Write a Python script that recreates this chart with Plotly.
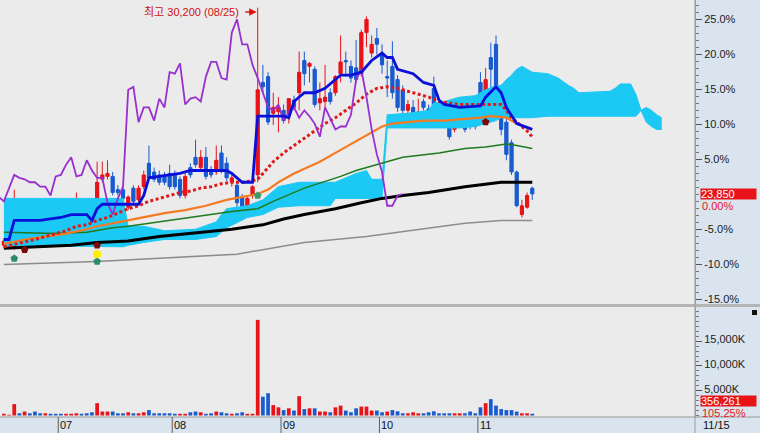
import plotly.graph_objects as go

# ---------------- data (prices in KRW, index = trading day) ----------------
opens = [22100,22300,22050,22550,22300,23050,23150,23250,23050,23350,
         23300,23300,23050,22900,23150,23450,23150,23050,22500,24350,
         24450,24450,24000,24000,23400,24050,23650,24100,24900,24600,
         24500,24450,24550,24500,24350,23800,24750,25100,24750,25100,
         24650,24600,25250,24900,24250,24150,23750,23200,23800,24500,
         27650,27850,26600,26650,26700,26600,27050,27300,28400,28200,
         28100,26950,27000,27300,27300,27950,28400,28200,28150,27950,
         29350,28650,29150,28650,27850,28200,27750,27400,26700,26800,
         26450,27000,26750,27450,26700,26650,26450,26050,26700,26450,
         26650,26700,27650,26800,28500,28950,27450,26300,25600,24600,
         23150,23400,24050]
highs = [22350,22400,24000,22700,23300,23150,23250,23400,23650,23450,
         23650,23450,23650,23150,23900,23600,23250,23250,24950,24950,
         25000,24600,24150,24150,23800,24150,24150,24650,25500,24750,
         24650,24600,24850,24650,24450,24600,24900,25700,25350,25450,
         24800,25500,25500,25100,24500,24250,23850,23800,24150,30200,
         28250,28000,27300,27150,26900,27100,27200,28700,28700,28350,
         28200,27650,28250,27450,27900,29250,28700,28400,29100,29450,
         29900,29250,29500,28950,28400,29050,27900,27550,27050,27050,
         27100,27100,26900,27850,26950,26800,26600,26900,26850,26650,
         26900,27000,28000,28150,29000,29250,27550,26450,25700,24650,
         23650,23900,24100]
lows = [22000,22000,21950,22150,22200,22600,22850,22800,22950,23100,
        23050,22950,22950,22850,23050,23150,22850,22350,22350,24250,
        24350,23800,23800,23600,23300,23450,23550,24000,24350,24250,
        24150,24150,24000,24000,23700,23700,24400,24750,24650,24350,
        24400,24500,24550,24300,24100,23350,22950,23100,23700,24250,
        27300,26200,26200,25950,26250,26250,26700,26700,27550,27650,
        26800,26700,26700,26900,27200,27650,27850,27650,27650,27850,
        28850,28500,28600,27950,27150,27100,26650,26600,26450,26250,
        26350,26700,26350,26600,26450,26150,25700,25950,26350,25950,
        26050,26050,26350,26700,27400,27050,25850,25000,24500,23400,
        23050,23350,23650]
closes = [22250,22150,22750,22300,22950,22750,22950,22900,23350,23200,
          23150,23050,23150,23050,23450,23250,22950,22550,24250,24500,
          24550,23900,23900,23700,23750,23600,24050,24500,24400,24350,
          24250,24250,24100,24100,23800,24450,24500,24850,25100,24450,
          24500,25000,24650,24400,24400,23550,23150,23700,24100,27400,
          27500,26300,26800,26800,26350,27100,26800,28000,27950,28300,
          26900,27100,27150,27000,27850,28350,28350,27800,27750,29350,
          29800,28950,28950,28250,27800,27300,26800,26700,26900,26350,
          26650,26800,26450,26700,26500,26250,25800,26800,26450,26050,
          26150,26150,26550,27750,28100,27150,26050,25200,24600,23450,
          23450,23800,23850]
volumes = [350000,150000,2300000,450000,800000,450000,800000,450000,450000,350000,
           350000,350000,350000,350000,450000,350000,450000,650000,2500000,800000,
           800000,800000,450000,450000,650000,450000,450000,650000,1100000,450000,
           450000,450000,450000,350000,350000,350000,650000,800000,650000,350000,
           450000,800000,650000,450000,350000,450000,650000,350000,350000,19300000,
           3800000,4500000,2100000,1650000,1100000,1450000,1000000,3900000,1300000,1450000,
           1450000,800000,800000,650000,1650000,2000000,1000000,650000,1450000,1800000,
           1800000,1000000,1000000,650000,800000,1100000,850000,450000,450000,650000,
           450000,450000,650000,850000,450000,450000,450000,450000,450000,450000,
           800000,450000,1650000,2500000,3300000,2000000,1300000,1100000,1100000,800000,
           450000,450000,356261]
vol_up = [1,1,1,0,1,0,0,0,1,0, 0,0,1,1,1,0,0,0,1,1,
          1,0,0,0,1,0,1,1,0,0, 0,0,0,0,1,1,0,0,1,0,
          0,1,0,0,1,0,0,1,1,1, 0,0,1,1,0,1,0,1,0,1,
          0,1,1,0,1,1,0,0,0,1, 1,1,0,0,1,0,0,0,1,1,
          1,0,0,0,0,0,0,1,1,0, 0,0,0,1,0,0,0,0,0,0,
          1,1,0]

# conversion line (blue), base line (red dots), moving averages
tenkan_x = [0,1,2,7,11,13,16,17,18,19,26,27,28,30,34,36,43,44,46,48,
            49,54,55,56,58,60,62,64,65,67,69,71,73,74,75,76,79,81,83,84,
            85,88,92,93,95,96,97,99,101,102]
tenkan_y = [22300,22300,22950,22950,23050,23150,23150,22950,23350,23500,
            23500,23800,24400,24450,24550,24650,24650,24550,24250,24250,
            26500,26500,26450,27000,27300,27300,27450,27750,27900,27900,
            28000,28400,28650,28500,28500,28100,27950,27650,27550,27050,
            26900,26800,26850,27150,27500,27300,26800,26250,26100,26050]
kijun_x = [0,4,6,8,10,12,14,16,18,20,22,24,26,28,30,32,34,36,38,40,
           42,44,46,48,49,50,52,54,56,58,60,62,64,66,68,70,72,74,76,78,
           80,82,84,86,88,92,96,97,98,99,100,101,102]
kijun_y = [22050,22200,22300,22400,22500,22600,22750,22800,22950,23050,
           23200,23350,23450,23600,23700,23800,23900,23950,24050,24100,
           24200,24250,24250,24300,24350,24550,24950,25250,25500,25750,
           26000,26250,26450,26700,26950,27250,27450,27500,27450,27350,
           27250,27150,27000,26950,26900,26900,26900,26700,26450,26300,
           26150,26000,25800]
ma_orange_x = [0,4,8,12,16,18,21,24,27,31,35,39,43,46,49,51,53,56,59,61,
               64,67,69,71,73,75,78,81,85,89,92,94,96,97,99,101,102]
ma_orange_y = [22150,22300,22400,22500,22650,22750,22850,22950,23050,23200,
               23300,23450,23650,23750,23850,24000,24250,24550,24800,24950,
               25250,25550,25750,25950,26150,26250,26300,26350,26350,26400,
               26450,26500,26450,26450,26250,26100,26050]
ma_green_x = [0,10,16,21,24,28,35,40,44,49,52,58,65,68,73,77,84,89,93,97,99,102]
ma_green_y = [22550,22500,22550,22700,22750,22850,23050,23150,23250,23350,23600,
              24050,24450,24650,24900,25100,25250,25400,25450,25550,25500,25400]
ma_black_x = [0,6,13,18,24,30,36,44,50,54,58,64,69,73,77,82,89,96,99,102]
ma_black_y = [22000,22050,22100,22200,22250,22400,22500,22650,22800,23000,
              23150,23350,23550,23700,23800,23900,24100,24250,24250,24250]
ma_gray_x = [0,18,45,58,70,78,89,96,102]
ma_gray_y = [21450,21550,21800,22200,22400,22600,22850,22950,22950]

# leading spans (cloud), already displaced forward
cloud_x = [0,23,24,27,31,37,41,42,43,47,50,53,57,63,64,66,68,70,71,73,
           74,78,82,83,85,88,91,93,95,96,97,98,99,100,101,102,105,107,109,110,
           111,117,118,119,121,122,123,124,125,126,127]
cloud_up = [23700,23700,22750,22750,22600,22650,22900,23150,23350,23450,
            23650,24100,24250,24250,24250,24400,24550,24650,24350,24350,
            26550,26600,26700,26950,27000,27150,27200,27400,27550,27550,
            27750,27900,28100,28200,28100,28000,27950,27800,27550,27450,
            27300,27350,27450,27600,27600,27250,26700,26800,26700,26550,26450]
cloud_lo = [22100,22050,22100,22200,22300,22300,22400,22550,22700,23050,
            23150,23400,23450,23450,23700,23700,23700,23700,23700,23700,
            26100,26100,26100,26100,26100,26100,26150,26250,26350,26450,
            26450,26450,26450,26450,26450,26450,26500,26500,26500,26500,
            26500,26500,26500,26500,26500,26500,26700,26300,26150,26050,26050]
lag = 25  # lagging span displacement (closing prices drawn back)

# signal markers
sell_x = [4, 18, 93]
sell_y = [21950, 22100, 26300]
buy_x = [2, 18]
buy_y = [21650, 21550]
dot_x = [18]
dot_y = [21800]
pent_x = [49]
pent_y = [23800]

# axis labels
last_close = 23850
pct_ticks = [25, 20, 15, 10, 5, -5, -10, -15]
vol_ticks = [5000000, 10000000, 15000000]
vol_tick_text = ["5,000K", "10,000K", "15,000K"]
month_start = [11, 33, 54, 73, 92]
month_labels = ["07", "08", "09", "10", "11"]
last_date = "11/15"
high_text = "최고 30,200 (08/25)"
high_idx = 49

# ---------------- figure ----------------
W, H = 760, 433
PX_R = 695  # right edge of plot area
RED = "#e8141a"
BLUE = "#1a5ccf"

def py(p):
    return 1 - p / H

idx = list(range(len(closes)))
fig = go.Figure()

# cloud
fig.add_trace(go.Scatter(x=cloud_x, y=cloud_lo, mode="lines",
                         line=dict(color="#1cc8f4", width=1), hoverinfo="skip"))
fig.add_trace(go.Scatter(x=cloud_x, y=cloud_up, mode="lines", fill="tonexty",
                         fillcolor="#1cc8f4", line=dict(color="#1cc8f4", width=1),
                         hoverinfo="skip"))

# candles: wicks + bodies
fig.add_trace(go.Candlestick(
    x=idx, open=opens, high=highs, low=lows, close=closes,
    increasing=dict(line=dict(color=RED, width=1), fillcolor=RED),
    decreasing=dict(line=dict(color=BLUE, width=1), fillcolor=BLUE),
    whiskerwidth=0, hoverinfo="skip"))
body_base = [min(o, c) for o, c in zip(opens, closes)]
body_len = [max(abs(c - o), 40) for o, c in zip(opens, closes)]
body_col = [RED if c >= o else BLUE for o, c in zip(opens, closes)]
fig.add_trace(go.Bar(x=idx, y=body_len, base=body_base, width=0.8,
                     marker=dict(color=body_col, line=dict(width=0)), hoverinfo="skip"))

fig.add_trace(go.Scatter(x=ma_gray_x, y=ma_gray_y, mode="lines",
                         line=dict(color="#8c8c8c", width=1.5)))
fig.add_trace(go.Scatter(x=ma_black_x, y=ma_black_y, mode="lines",
                         line=dict(color="#000000", width=3)))
fig.add_trace(go.Scatter(x=ma_green_x, y=ma_green_y, mode="lines",
                         line=dict(color="#1e7a1e", width=1.5)))
fig.add_trace(go.Scatter(x=ma_orange_x, y=ma_orange_y, mode="lines",
                         line=dict(color="#f57a22", width=2.2)))
fig.add_trace(go.Scatter(x=kijun_x, y=kijun_y, mode="lines",
                         line=dict(color="#dd1a1a", width=3, dash="3px,2.5px")))
fig.add_trace(go.Scatter(x=[i - lag for i in idx], y=closes, mode="lines",
                         line=dict(color="#9a2fd0", width=1.8)))
fig.add_trace(go.Scatter(x=tenkan_x, y=tenkan_y, mode="lines",
                         line=dict(color="#0a10d8", width=2.8)))

# signals
fig.add_trace(go.Scatter(x=sell_x, y=sell_y, mode="markers",
                         marker=dict(symbol="pentagon", size=8, color="#7a0a0a")))
fig.add_trace(go.Scatter(x=buy_x, y=buy_y, mode="markers",
                         marker=dict(symbol="pentagon", size=8, color="#2a8a6a")))
fig.add_trace(go.Scatter(x=dot_x, y=dot_y, mode="markers",
                         marker=dict(symbol="circle", size=8, color="#ffee00")))
fig.add_trace(go.Scatter(x=pent_x, y=pent_y, mode="markers",
                         marker=dict(symbol="pentagon", size=8, color="#3a9a6a")))

# volume
fig.add_trace(go.Bar(x=idx, y=volumes, xaxis="x2", yaxis="y2", width=0.72,
                     marker=dict(color=[RED if u else BLUE for u in vol_up], line=dict(width=0))))

xr = [-0.75, (PX_R - 3.9) / 5.18]
price_top = last_close * (1 + 194 / 700)
price_bot = last_close * (1 - 110 / 700)
tickfont = dict(family="Liberation Sans, Arial", size=11, color="#222")

fig.update_layout(
    width=W, height=H, margin=dict(l=0, r=0, t=0, b=0, pad=0, autoexpand=False),
    paper_bgcolor="#d9e4ee", plot_bgcolor="#ebebeb", showlegend=False,
    hovermode=False, barmode="overlay",
    xaxis=dict(domain=[0, PX_R / W], range=xr, showticklabels=False, showgrid=False,
               zeroline=False, rangeslider=dict(visible=False), anchor="y", fixedrange=True,
               automargin=False),
    yaxis=dict(domain=[py(304), 1], range=[price_bot, price_top], side="right",
               tickvals=[last_close * (1 + p / 100) for p in pct_ticks],
               ticktext=[f"{p:.1f}%" for p in pct_ticks], ticks="outside", ticklen=6,
               tickcolor="#555", tickfont=tickfont, showgrid=False, zeroline=False,
               showline=True, linecolor="#9a9a9a", linewidth=1, anchor="x",
               automargin=False, fixedrange=True,
               minor=dict(tickvals=[last_close * (1 + p / 100) for p in range(-15, 28)],
                          ticks="outside", ticklen=3, tickcolor="#777")),
    xaxis2=dict(domain=[0, PX_R / W], range=xr, showticklabels=False, showgrid=False,
                zeroline=False, anchor="y2", matches="x", automargin=False),
    yaxis2=dict(domain=[py(417), py(307)], range=[-0.3e6, 21.9e6], side="right",
                tickvals=vol_ticks, ticktext=vol_tick_text, ticks="outside", ticklen=6,
                tickcolor="#555", tickfont=tickfont, showgrid=False, zeroline=False,
                showline=True, linecolor="#9a9a9a", linewidth=1, anchor="x2",
                automargin=False, fixedrange=True, ticklabelshift=-2,
                minor=dict(tickvals=[k * 1e6 for k in range(0, 22)], ticks="outside",
                           ticklen=3, tickcolor="#777")),
)

shapes = []
# separator between price and volume panes
shapes.append(dict(type="rect", xref="paper", yref="paper", x0=0, x1=1,
                   y0=py(307), y1=py(304), fillcolor="#b4b4b4", line=dict(width=0)))
# x band top line
shapes.append(dict(type="line", xref="paper", yref="paper", x0=0, x1=1,
                   y0=py(417), y1=py(417), line=dict(color="#9a9a9a", width=1)))
# right panel divider
shapes.append(dict(type="line", xref="paper", yref="paper", x0=PX_R / W, x1=PX_R / W,
                   y0=0, y1=1, line=dict(color="#9a9a9a", width=1)))
# month separators
for m in month_start:
    shapes.append(dict(type="line", xref="x2", yref="paper", x0=m - 0.5, x1=m - 0.5,
                       y0=0, y1=py(417), line=dict(color="#606060", width=1)))
# small button in volume pane
shapes.append(dict(type="rect", xref="paper", yref="paper", x0=752 / W, x1=757 / W,
                   y0=py(315), y1=py(310), fillcolor="#111", line=dict(width=0)))
fig.update_layout(shapes=shapes)

ann = []
for m, lab in zip(month_start, month_labels):
    ann.append(dict(x=m - 0.5, xref="x2", y=py(425), yref="paper", text=lab,
                    showarrow=False, xanchor="left", yanchor="middle", xshift=0,
                    font=dict(family="Liberation Sans, Arial", size=11, color="#111")))
ann.append(dict(x=701 / W, xref="paper", y=py(425), yref="paper", text=last_date,
                showarrow=False, xanchor="left", yanchor="middle",
                font=dict(family="Liberation Sans, Arial", size=11, color="#111")))
# last price box
ann.append(dict(x=700 / W, xref="paper", y=py(194), yref="paper",
                text=f"{last_close:,}", showarrow=False, xanchor="left", yanchor="middle",
                bgcolor=RED, width=55, align="left", borderpad=0, height=10,
                font=dict(family="Liberation Sans, Arial", size=11, color="white")))
ann.append(dict(x=700 / W, xref="paper", y=py(206), yref="paper", text="0.00%",
                showarrow=False, xanchor="left", yanchor="middle",
                font=dict(family="Liberation Sans, Arial", size=11, color=RED)))
# last volume box
ann.append(dict(x=700 / W, xref="paper", y=py(401), yref="paper",
                text=f"{volumes[-1]:,}", showarrow=False, xanchor="left", yanchor="middle",
                bgcolor=RED, width=55, align="left", borderpad=0, height=10,
                font=dict(family="Liberation Sans, Arial", size=11, color="white")))
ann.append(dict(x=700 / W, xref="paper", y=py(413), yref="paper", text="105.25%",
                showarrow=False, xanchor="left", yanchor="middle",
                font=dict(family="Liberation Sans, Arial", size=11, color=RED)))
# high annotation
ann.append(dict(x=high_idx, xref="x", y=py(12), yref="paper", text=high_text,
                showarrow=False, xanchor="right", yanchor="middle", xshift=-17,
                font=dict(family="Liberation Sans, Noto Sans CJK KR", size=11, color="#d01010")))
ann.append(dict(x=high_idx, xref="x", y=py(12), yref="paper", text="",
                showarrow=True, ax=-14, ay=0, arrowhead=2, arrowsize=1, arrowwidth=1.5,
                arrowcolor="#e01010", standoff=1))
fig.update_layout(annotations=ann)

fig.write_html("out.html", config={"displayModeBar": False, "staticPlot": True},
               post_script="document.body.style.margin='0';document.body.style.padding='0';"
                           "document.body.style.overflow='hidden';")
